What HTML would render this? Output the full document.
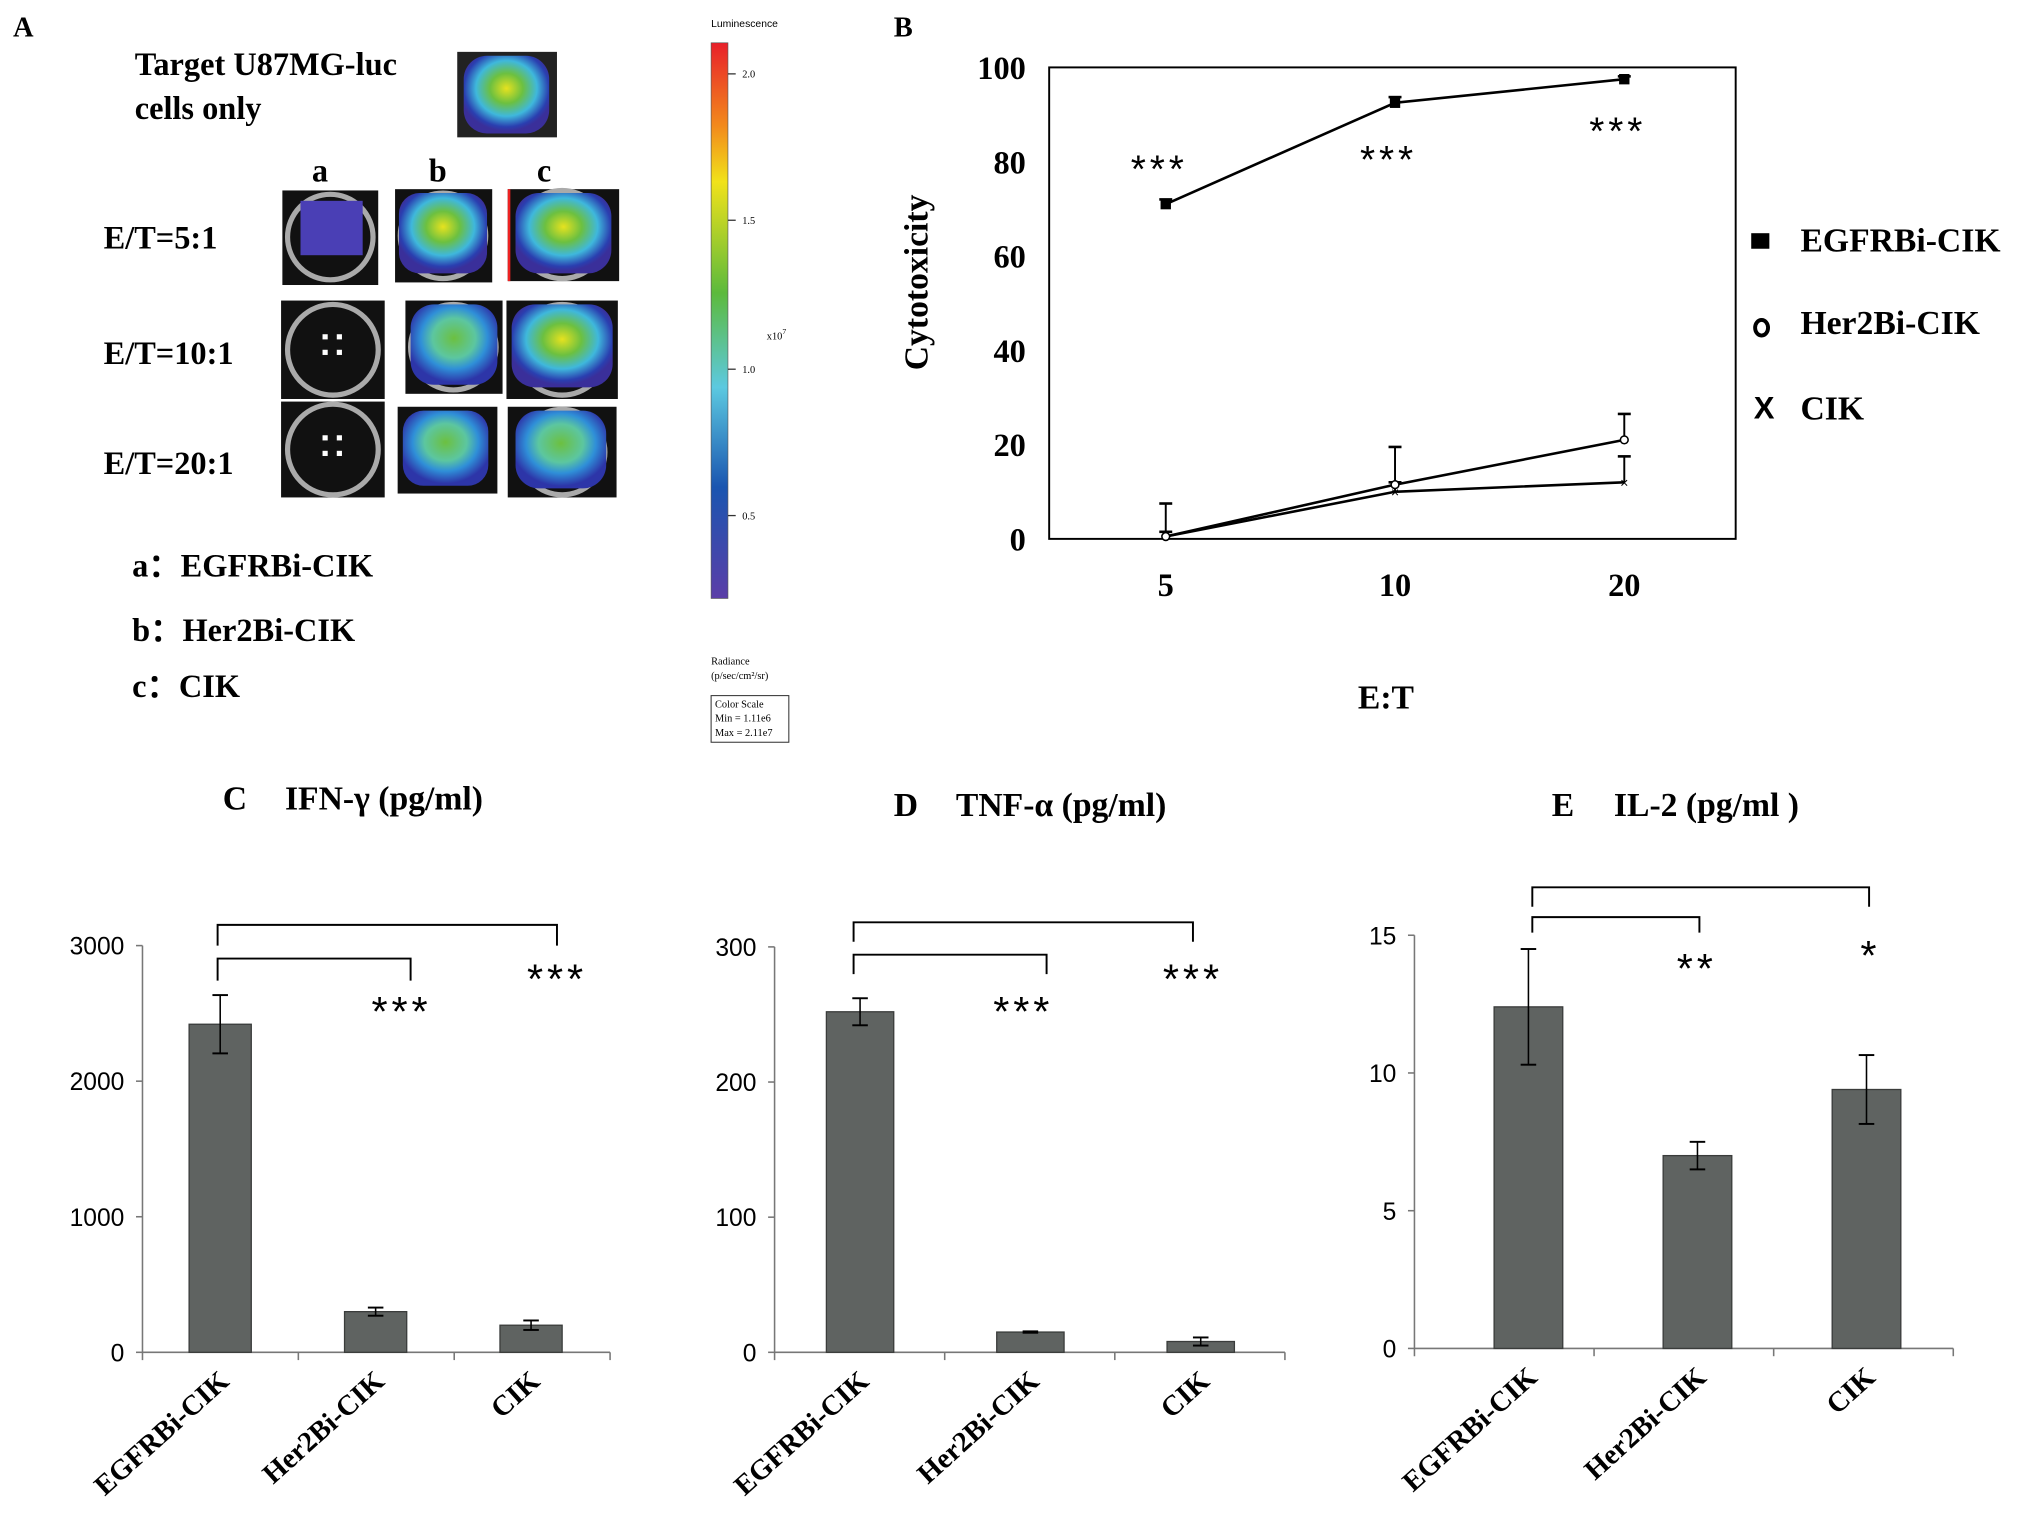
<!DOCTYPE html>
<html><head><meta charset="utf-8"><style>
html,body{margin:0;padding:0;background:#fff}
svg{display:block}
text{font-family:"Liberation Serif",serif}
.s{font-family:"Liberation Sans",sans-serif}
</style></head><body>
<svg id="fig" width="2031" height="1535" viewBox="0 0 1568 1185" xmlns="http://www.w3.org/2000/svg">
<defs>
<linearGradient id="cbar" x1="0" y1="0" x2="0" y2="1">
<stop offset="0" stop-color="#e8202a"/><stop offset="0.15" stop-color="#f28a1c"/><stop offset="0.25" stop-color="#f1e21a"/><stop offset="0.45" stop-color="#5cba3c"/><stop offset="0.62" stop-color="#5cc9e0"/><stop offset="0.8" stop-color="#1a55b0"/><stop offset="1" stop-color="#5b3ea8"/>
</linearGradient>
<radialGradient id="hot" cx="0.5" cy="0.42" r="0.55"><stop offset="0" stop-color="#e6e21f"/><stop offset="0.35" stop-color="#6cc040"/><stop offset="0.65" stop-color="#3fb8dc"/><stop offset="0.9" stop-color="#2a3fb0"/><stop offset="1" stop-color="#3a2f9a"/></radialGradient>
<radialGradient id="warm" cx="0.5" cy="0.42" r="0.55"><stop offset="0" stop-color="#6cc040"/><stop offset="0.45" stop-color="#5cc6a0"/><stop offset="0.7" stop-color="#2f8fd8"/><stop offset="1" stop-color="#2d35a8"/></radialGradient>
</defs>

<!-- Panel A -->
<g>
<text x="10" y="28" font-size="22" font-weight="bold">A</text>
<text x="104" y="58" font-size="25" font-weight="bold">Target U87MG-luc</text>
<text x="104" y="92" font-size="25" font-weight="bold">cells only</text>
<g><rect x="353" y="40" width="77" height="66" fill="#222"/><rect x="358" y="43" width="66" height="60" rx="18" fill="url(#hot)"/></g>
<text x="247" y="140" font-size="25" font-weight="bold" text-anchor="middle">a</text>
<text x="338" y="140" font-size="25" font-weight="bold" text-anchor="middle">b</text>
<text x="420" y="140" font-size="25" font-weight="bold" text-anchor="middle">c</text>
<text x="80" y="192" font-size="25" font-weight="bold">E/T=5:1</text>
<text x="80" y="281" font-size="25" font-weight="bold">E/T=10:1</text>
<text x="80" y="366" font-size="25" font-weight="bold">E/T=20:1</text>
<g>
<rect x="218" y="147" width="74" height="73" fill="#111"/><circle cx="255" cy="183" r="33" fill="none" stroke="#aaa" stroke-width="4"/><rect x="232" y="155" width="48" height="42" fill="#4a3fb5"/>
<rect x="305" y="146" width="75" height="72" fill="#111"/><circle cx="342" cy="182" r="33" fill="none" stroke="#aaa" stroke-width="4"/><rect x="308" y="149" width="68" height="62" rx="16" fill="url(#hot)"/>
<rect x="392" y="146" width="86" height="71" fill="#111"/><rect x="392" y="146" width="2" height="71" fill="#e22"/><circle cx="434" cy="181" r="34" fill="none" stroke="#aaa" stroke-width="4"/><rect x="398" y="149" width="74" height="62" rx="18" fill="url(#hot)"/>
<rect x="217" y="232" width="80" height="76" fill="#111"/><circle cx="257" cy="270" r="35" fill="none" stroke="#aaa" stroke-width="4"/><rect x="249" y="258" width="4" height="4" fill="#fff"/><rect x="260" y="258" width="4" height="4" fill="#fff"/><rect x="249" y="270" width="4" height="4" fill="#fff"/><rect x="260" y="270" width="4" height="4" fill="#fff"/>
<rect x="313" y="232" width="75" height="72" fill="#111"/><circle cx="350" cy="268" r="33" fill="none" stroke="#aaa" stroke-width="4"/><rect x="317" y="235" width="67" height="62" rx="18" fill="url(#warm)"/>
<rect x="391" y="232" width="86" height="76" fill="#111"/><circle cx="434" cy="270" r="35" fill="none" stroke="#aaa" stroke-width="4"/><rect x="395" y="235" width="78" height="64" rx="18" fill="url(#hot)"/>
<rect x="217" y="310" width="80" height="74" fill="#111"/><circle cx="257" cy="347" r="35" fill="none" stroke="#aaa" stroke-width="4"/><rect x="249" y="336" width="4" height="4" fill="#fff"/><rect x="260" y="336" width="4" height="4" fill="#fff"/><rect x="249" y="348" width="4" height="4" fill="#fff"/><rect x="260" y="348" width="4" height="4" fill="#fff"/>
<rect x="307" y="314" width="77" height="67" fill="#111"/><rect x="311" y="317" width="66" height="58" rx="16" fill="url(#warm)"/>
<rect x="392" y="314" width="84" height="70" fill="#111"/><circle cx="434" cy="349" r="33" fill="none" stroke="#aaa" stroke-width="4"/><rect x="398" y="317" width="70" height="60" rx="18" fill="url(#warm)"/>
</g>
<text x="102" y="445" font-size="25" font-weight="bold">a：EGFRBi-CIK</text>
<text x="102" y="495" font-size="25" font-weight="bold">b：Her2Bi-CIK</text>
<text x="102" y="538" font-size="25" font-weight="bold">c：CIK</text>
<g>
<text x="549" y="21" font-size="8" class="s">Luminescence</text>
<rect x="549" y="33" width="13" height="429" fill="url(#cbar)" stroke="#555" stroke-width="0.5"/>
<g font-size="8" class="s">
<line x1="562" y1="57" x2="568" y2="57" stroke="#333"/><text x="573" y="60">2.0</text>
<line x1="562" y1="170" x2="568" y2="170" stroke="#333"/><text x="573" y="173">1.5</text>
<line x1="562" y1="285" x2="568" y2="285" stroke="#333"/><text x="573" y="288">1.0</text>
<line x1="562" y1="398" x2="568" y2="398" stroke="#333"/><text x="573" y="401">0.5</text>
<text x="592" y="262">x10<tspan dy="-4" font-size="6">7</tspan></text>
<text x="549" y="513">Radiance</text><text x="549" y="524">(p/sec/cm²/sr)</text>
<rect x="549" y="537" width="60" height="36" fill="none" stroke="#333" stroke-width="0.8"/>
<text x="552" y="546">Color Scale</text><text x="552" y="557">Min = 1.11e6</text><text x="552" y="568">Max = 2.11e7</text>
</g></g>
</g>

<!-- Panel B -->
<g id="panelB">
<text x="690" y="28" font-size="22" font-weight="bold">B</text>
<rect x="810" y="52" width="530" height="364" fill="none" stroke="#000" stroke-width="1.5"/>
<text transform="translate(716,218) rotate(-90)" font-size="26" font-weight="bold" text-anchor="middle">Cytotoxicity</text>
<text x="1070" y="547" font-size="26" font-weight="bold" text-anchor="middle">E:T</text>
<g id="bAxes"></g><g id="bSeries"></g>
<g>
<rect x="1352" y="180" width="14" height="12" fill="#000"/>
<text x="1390" y="194" font-size="26" font-weight="bold">EGFRBi-CIK</text>
<ellipse cx="1360" cy="253" rx="5" ry="6" fill="#fff" stroke="#000" stroke-width="3"/>
<text x="1390" y="258" font-size="26" font-weight="bold">Her2Bi-CIK</text>
<text x="1362" y="323" font-size="24" font-weight="bold" text-anchor="middle" class="s">X</text>
<text x="1390" y="324" font-size="26" font-weight="bold">CIK</text>
</g>
</g>

<g id="panelC"></g>
<g id="panelD"></g>
<g id="panelE"></g>
</svg>
<script>
const NS="http://www.w3.org/2000/svg";
// Panel B data
const bCategories=[5,10,20];
const bYTicks=[0,20,40,60,80,100];
const egfrValues=[71,92.5,97.5];
const egfrErr=[1,1.2,0.6];
const her2Values=[0.5,11.5,21];
const her2Err=[7,8,5.5];
const cikValues=[0.5,10,12];
const cikErr=[1,2,5.5];
const bStars=[["***",80],["***",82],["***",88]];

// Bar panels data
const barCategories=["EGFRBi-CIK","Her2Bi-CIK","CIK"];
const ifnValues=[2420,300,200];
const ifnErr=[215,30,35];
const ifnTicks=[0,1000,2000,3000];
const tnfValues=[252,15,8];
const tnfErr=[10,0.5,3];
const tnfTicks=[0,100,200,300];
const il2Values=[12.4,7.0,9.4];
const il2Err=[2.1,0.5,1.25];
const il2Ticks=[0,5,10,15];

function mk(tag,attrs,parent,txt){const e=document.createElementNS(NS,tag);for(const k in attrs)e.setAttribute(k,attrs[k]);if(txt!==undefined)e.textContent=txt;parent.appendChild(e);return e;}

// Panel B
(function(){
const ax=document.getElementById('bAxes'),sg=document.getElementById('bSeries');
const xPos=[900,1077,1254];
const xs=i=>xPos[i];
const ys=v=>416-v*3.64;
bYTicks.forEach(t=>{const e=mk('text',{x:792,y:ys(t)+9,'font-size':25,'font-weight':'bold','text-anchor':'end'},ax,String(t));

});
bCategories.forEach((c,i)=>{const e=mk('text',{x:xs(i),y:460,'font-size':25,'font-weight':'bold','text-anchor':'middle'},ax,String(c));

});
function series(vals,errs,name,marker){
 const g=mk('g',{},sg);
 
 
 mk('polyline',{points:vals.map((v,i)=>xs(i)+','+ys(v)).join(' '),fill:'none',stroke:'#000','stroke-width':2},g);
 vals.forEach((v,i)=>{
  const y0=ys(v),y1=ys(v+errs[i]);
  mk('line',{x1:xs(i),y1:y0,x2:xs(i),y2:y1,stroke:'#000','stroke-width':1.5},g);
  mk('line',{x1:xs(i)-5,y1:y1,x2:xs(i)+5,y2:y1,stroke:'#000','stroke-width':2},g);
  let m;
  if(marker==='sq')m=mk('rect',{x:xs(i)-4,y:y0-4,width:8,height:8,fill:'#000'},g);
  else if(marker==='o')m=mk('circle',{cx:xs(i),cy:y0,r:3,fill:'#fff',stroke:'#000','stroke-width':1.2},g);
  else m=mk('text',{x:xs(i),y:y0+4,'font-size':11,'text-anchor':'middle',class:'s'},g,'×');
  
  
 });
}
series(cikValues,cikErr,'cik','x');
series(her2Values,her2Err,'her2','o');
series(egfrValues,egfrErr,'egfr','sq');
bStars.forEach((s,i)=>{const e=mk('text',{x:xs(i)-5,y:ys(s[1])+16,'font-size':30,'text-anchor':'middle',class:'s','letter-spacing':3},sg,s[0]);

});
})();

function barPanel(id,cfg){
 const g=document.getElementById(id);
 const ys=v=>cfg.y0-(v/cfg.max)*(cfg.y0-cfg.yTop);
 const tl=mk('text',{x:cfg.tx,y:cfg.ty,'font-size':26,'font-weight':'bold'},g,cfg.letter);
 
 
 const t=mk('text',{x:cfg.tx+48,y:cfg.ty,'font-size':26,'font-weight':'bold'},g,cfg.title);
 
 
 mk('line',{x1:cfg.ax,y1:cfg.yTop,x2:cfg.ax,y2:cfg.y0+6,stroke:'#777','stroke-width':1.2},g);
 mk('line',{x1:cfg.ax,y1:cfg.y0,x2:cfg.axEnd,y2:cfg.y0,stroke:'#777','stroke-width':1.2},g);
 const step=(cfg.axEnd-cfg.ax)/3;
 for(let k=1;k<=3;k++)mk('line',{x1:cfg.ax+k*step,y1:cfg.y0,x2:cfg.ax+k*step,y2:cfg.y0+6,stroke:'#777','stroke-width':1.2},g);
 cfg.ticks.forEach(tv=>{
  mk('line',{x1:cfg.ax-5,y1:ys(tv),x2:cfg.ax,y2:ys(tv),stroke:'#777','stroke-width':1.2},g);
  const e=mk('text',{x:cfg.ax-14,y:ys(tv)+7,'font-size':19,'text-anchor':'end',class:'s'},g,String(tv));
  
  
 });
 cfg.values.forEach((v,i)=>{
  const cx=cfg.c0+cfg.cs*i;
  const b=mk('rect',{x:cx-cfg.bw/2,y:ys(v),width:cfg.bw,height:cfg.y0-ys(v),fill:'#5f6361',stroke:'#3a3c3b','stroke-width':1},g);
  
  
  const e=cfg.err[i],yh=ys(v+e),yl=ys(v-e);
  mk('line',{x1:cx,y1:yh,x2:cx,y2:yl,stroke:'#000','stroke-width':1.2},g);
  mk('line',{x1:cx-6,y1:yh,x2:cx+6,y2:yh,stroke:'#000','stroke-width':1.5},g);
  mk('line',{x1:cx-6,y1:yl,x2:cx+6,y2:yl,stroke:'#000','stroke-width':1.5},g);
  const l=mk('text',{transform:`translate(${cx+8},${cfg.y0+24}) rotate(-42)`,'font-size':22,'font-weight':'bold','text-anchor':'end'},g,barCategories[i]);
  
  
 });
 cfg.brackets.forEach(br=>{
  const p=mk('path',{d:`M${br[0]},${br[3]} L${br[0]},${br[2]} L${br[1]},${br[2]} L${br[1]},${br[3]}`,fill:'none',stroke:'#000','stroke-width':1.5},g);
  
  
 });
 cfg.stars.forEach(s=>{
  const e=mk('text',{x:s[0],y:s[1],'font-size':32,'text-anchor':'middle',class:'s','letter-spacing':3},g,s[2]);
  
  
 });
}
barPanel('panelC',{letter:'C',title:'IFN-γ (pg/ml)',tx:172,ty:625,ax:110,axEnd:471,c0:170,cs:120,y0:1044,yTop:730,max:3000,ticks:ifnTicks,values:ifnValues,err:ifnErr,bw:48,
 brackets:[[168,430,714,730],[168,317,740,757]],stars:[[310,792,'***'],[430,767,'***']]});
barPanel('panelD',{letter:'D',title:'TNF-α (pg/ml)',tx:690,ty:630,ax:598,axEnd:992,c0:664,cs:131.5,y0:1044,yTop:731,max:300,ticks:tnfTicks,values:tnfValues,err:tnfErr,bw:52,
 brackets:[[659,921,712,727],[659,808,737,752]],stars:[[790,792,'***'],[921,767,'***']]});
barPanel('panelE',{letter:'E',title:'IL-2 (pg/ml )',tx:1198,ty:630,ax:1092,axEnd:1508,c0:1180,cs:130.5,y0:1041,yTop:722,max:15,ticks:il2Ticks,values:il2Values,err:il2Err,bw:53,
 brackets:[[1183,1443,685,700],[1183,1312,708,720]],stars:[[1310,759,'**'],[1444,749,'*']]});
</script>
</body></html>
